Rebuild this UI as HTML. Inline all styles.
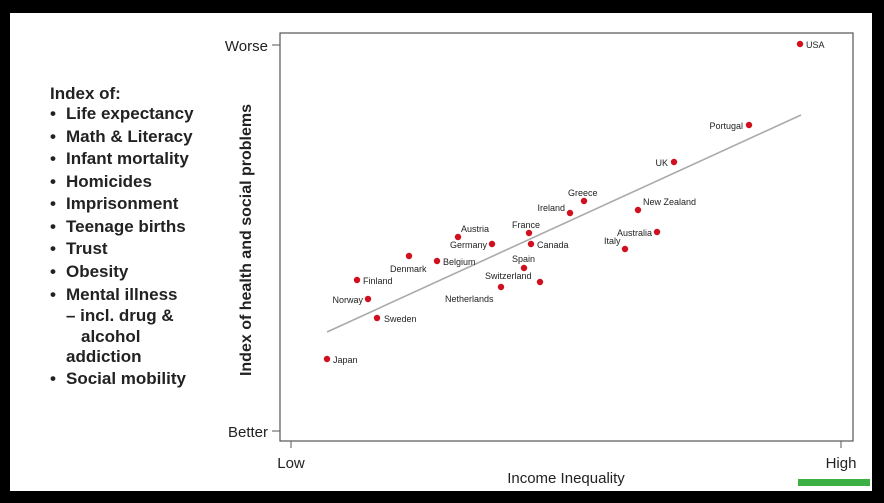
<!DOCTYPE html>
<html><head><meta charset="utf-8"><style>
html,body{margin:0;padding:0;background:#000;}
svg{display:block;font-family:"Liberation Sans",Arial,sans-serif;}
</style></head><body>
<svg width="884" height="503" viewBox="0 0 884 503">
<rect x="0" y="0" width="884" height="503" fill="#000"/>
<rect x="10" y="13" width="862" height="478" fill="#fff"/>
<rect x="280" y="33" width="573" height="408" fill="none" stroke="#555" stroke-width="1.2"/>
<g font-size="17" font-weight="bold" fill="#222">
<text x="50" y="99">Index of:</text>
<g>
<text x="50" y="119">•</text><text x="66" y="119">Life expectancy</text>
<text x="50" y="142">•</text><text x="66" y="142">Math &amp; Literacy</text>
<text x="50" y="164">•</text><text x="66" y="164">Infant mortality</text>
<text x="50" y="187">•</text><text x="66" y="187">Homicides</text>
<text x="50" y="209">•</text><text x="66" y="209">Imprisonment</text>
<text x="50" y="232">•</text><text x="66" y="232">Teenage births</text>
<text x="50" y="254">•</text><text x="66" y="254">Trust</text>
<text x="50" y="277">•</text><text x="66" y="277">Obesity</text>
<text x="50" y="300">•</text><text x="66" y="300">Mental illness</text>
<text x="66" y="321">– incl. drug &amp;</text>
<text x="81" y="342">alcohol</text>
<text x="66" y="362">addiction</text>
<text x="50" y="384">•</text><text x="66" y="384">Social mobility</text>
</g></g>
<text transform="translate(251,240) rotate(-90)" text-anchor="middle" font-size="16" font-weight="bold" fill="#222">Index of health and social problems</text>
<g font-size="15" fill="#222">
<text x="268" y="51" text-anchor="end">Worse</text>
<text x="268" y="437" text-anchor="end">Better</text>
<text x="291" y="468" text-anchor="middle">Low</text>
<text x="841" y="468" text-anchor="middle">High</text>
<text x="566" y="483" text-anchor="middle">Income Inequality</text>
</g>
<g stroke="#555" stroke-width="1">
<line x1="272" y1="45" x2="280" y2="45"/><line x1="272" y1="431" x2="280" y2="431"/>
<line x1="291" y1="441" x2="291" y2="448"/><line x1="841" y1="441" x2="841" y2="448"/>
</g>
<line x1="327" y1="332" x2="801" y2="115" stroke="#aaa" stroke-width="1.6"/>
<g fill="#d0101e">
<circle cx="800" cy="44" r="3.2"/><circle cx="749" cy="125" r="3.2"/><circle cx="674" cy="162" r="3.2"/>
<circle cx="584" cy="201" r="3.2"/><circle cx="638" cy="210" r="3.2"/><circle cx="570" cy="213" r="3.2"/>
<circle cx="657" cy="232" r="3.2"/><circle cx="529" cy="233" r="3.2"/><circle cx="458" cy="237" r="3.2"/>
<circle cx="492" cy="244" r="3.2"/><circle cx="531" cy="244" r="3.2"/><circle cx="625" cy="249" r="3.2"/>
<circle cx="409" cy="256" r="3.2"/><circle cx="437" cy="261" r="3.2"/><circle cx="524" cy="268" r="3.2"/>
<circle cx="357" cy="280" r="3.2"/><circle cx="540" cy="282" r="3.2"/><circle cx="501" cy="287" r="3.2"/>
<circle cx="368" cy="299" r="3.2"/><circle cx="377" cy="318" r="3.2"/><circle cx="327" cy="359" r="3.2"/>
</g>
<g font-size="9" fill="#222">
<text x="806" y="48">USA</text>
<text x="743" y="129" text-anchor="end">Portugal</text>
<text x="668" y="166" text-anchor="end">UK</text>
<text x="568" y="196">Greece</text>
<text x="643" y="205">New Zealand</text>
<text x="565" y="211" text-anchor="end">Ireland</text>
<text x="652" y="236" text-anchor="end">Australia</text>
<text x="512" y="228">France</text>
<text x="461" y="232">Austria</text>
<text x="487" y="248" text-anchor="end">Germany</text>
<text x="537" y="248">Canada</text>
<text x="604" y="244">Italy</text>
<text x="390" y="272">Denmark</text>
<text x="443" y="265">Belgium</text>
<text x="512" y="262">Spain</text>
<text x="363" y="284">Finland</text>
<text x="485" y="279">Switzerland</text>
<text x="445" y="302">Netherlands</text>
<text x="363" y="303" text-anchor="end">Norway</text>
<text x="384" y="322">Sweden</text>
<text x="333" y="363">Japan</text>
</g>
<rect x="798" y="479" width="72" height="7" fill="#3cb043"/>
</svg>
</body></html>
